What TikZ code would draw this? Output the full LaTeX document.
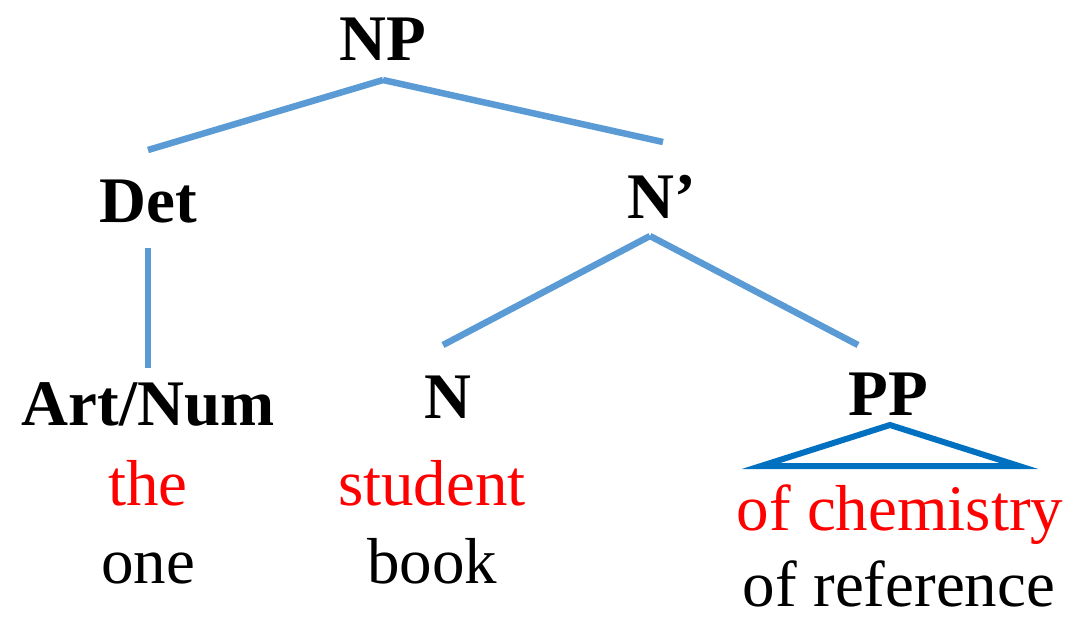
\documentclass[tikz,border=0pt]{standalone}
\usepackage{fontspec}
\setmainfont{Liberation Serif}[BoldFont={Liberation Serif Bold}]
\newfontfamily\timesfont{Liberation Serif}[BoldFont={Liberation Serif Bold}]
\definecolor{edgeblue}{HTML}{5B9BD5}
\definecolor{triblue}{HTML}{0070C0}
\definecolor{wordred}{HTML}{FF0000}
\begin{document}
\begin{tikzpicture}[x=1pt,y=-1pt,
  cat/.style={anchor=base,inner sep=0pt,font=\timesfont\fontsize{65}{65}\selectfont\bfseries},
  word/.style={anchor=base,inner sep=0pt,font=\timesfont\fontsize{65}{65}\selectfont},
  redword/.style={word,text=wordred},
  branch/.style={draw=edgeblue,line width=6.5pt},
  tri/.style={draw=triblue,line width=6pt,line join=miter,miter limit=20}]
\useasboundingbox (0,0) rectangle (1076,616);
% category labels
\node[cat] (np) at (383,60) {NP};
\node[cat] (det) at (148,222) {Det};
\node[cat] (nbar) at (662,218) {N’};
\node[cat] (art) at (148,425) {Art/Num};
\node[cat] (n) at (448,418) {N};
\node[cat] (pp) at (888,415) {PP};
% words
\node[redword] (the) at (148,505) {the};
\node[word] (one) at (148,583) {one};
\node[redword] (student) at (432,505) {student};
\node[word] (book) at (432,583) {book};
\node[redword] (chem) at (900,530) {of chemistry};
\node[word] (ref) at (899,606) {of reference};
% branch end points
\coordinate (npb) at (383,80);
\coordinate (dett) at (148,150);
\coordinate (nbart) at (663,142);
\coordinate (detb) at (148,248);
\coordinate (artt) at (148,368);
\coordinate (nbarb) at (650,236);
\coordinate (nt) at (443,345);
\coordinate (ppt) at (858,345);
\draw[branch] (npb) -- (dett);
\draw[branch] (npb) -- (nbart);
\draw[branch] (detb) -- (artt);
\draw[branch] (nbarb) -- (nt);
\draw[branch] (nbarb) -- (ppt);
% triangle under PP
\coordinate (tapex) at (890,425);
\coordinate (tleft) at (761,466);
\coordinate (tright) at (1019,466);
\draw[tri] (tapex) -- (tleft) -- (tright) -- cycle;
\end{tikzpicture}
\end{document}
